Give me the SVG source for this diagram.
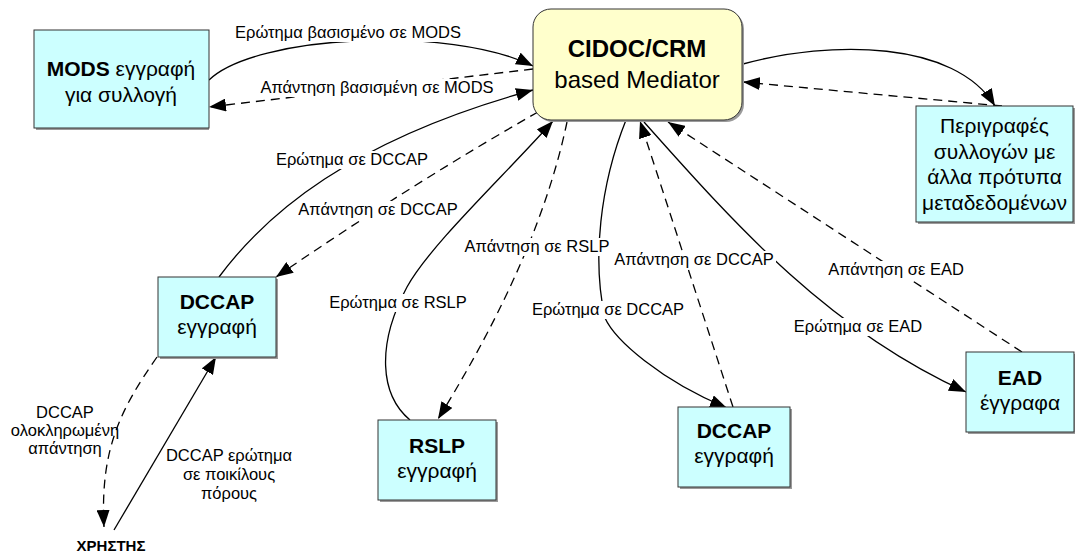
<svg xmlns="http://www.w3.org/2000/svg" width="1075" height="556" viewBox="0 0 1075 556">
  <style>
    text { font-family: "Liberation Sans", Arial, sans-serif; fill: #000; }
    .box { fill: #CCFFFF; stroke: #333; stroke-width: 1; }
    .med { fill: #FFFFCC; stroke: #333; stroke-width: 1; }
    .shadow { fill: #9a9a9a; }
    .nt { font-size: 21px; text-anchor: middle; }
    .mt { font-size: 24px; text-anchor: middle; }
    .b { font-weight: bold; }
    .el { font-size: 16.5px; text-anchor: middle; }
    .bg { fill: #fff; }
    .solid { fill: none; stroke: #000; stroke-width: 1.3; }
    .dash { fill: none; stroke: #000; stroke-width: 1.3; stroke-dasharray: 9 6; }
  </style>
  <defs>
    <marker id="ah" markerUnits="userSpaceOnUse" markerWidth="18" markerHeight="13" refX="17" refY="6.5" orient="auto">
      <path d="M0,0 L17,6.5 L0,13 z" fill="#000" stroke="none"/>
    </marker>
  </defs>
  <rect width="1075" height="556" fill="#fff"/>

  <!-- connectors -->
  <g id="connectors">
    <!-- MODS <-> mediator -->
    <path class="solid" d="M209,80 C255,35 450,25 533,66" marker-end="url(#ah)"/>
    <path class="dash" d="M533,69 L209,107" marker-end="url(#ah)"/>
    <!-- DCCAP (left) <-> mediator -->
    <path class="solid" d="M219,277 C265,215 350,140 533,90" marker-end="url(#ah)"/>
    <path class="dash" d="M538,112 Q410,185 276,277" marker-end="url(#ah)"/>
    <!-- RSLP <-> mediator -->
    <path class="solid" d="M410,420 C380,395 376,345 407,287 C430,245 505,175 553,121" marker-end="url(#ah)"/>
    <path class="dash" d="M567,122 Q539,256 438,419" marker-end="url(#ah)"/>
    <!-- DCCAP (middle) <-> mediator -->
    <path class="solid" d="M626,120 C600,185 592,260 605,318 C615,340 660,380 727,408" marker-end="url(#ah)"/>
    <path class="dash" d="M733,407 L640,121" marker-end="url(#ah)"/>
    <!-- EAD <-> mediator -->
    <path class="solid" d="M644,122 C740,230 830,330 966,392" marker-end="url(#ah)"/>
    <path class="dash" d="M1022,352 L668,122" marker-end="url(#ah)"/>
    <!-- other metadata descriptions <-> mediator -->
    <path class="solid" d="M743,64 C830,40 955,40 995,106" marker-end="url(#ah)"/>
    <path class="dash" d="M1002,106 L743,82" marker-end="url(#ah)"/>
    <!-- user <-> DCCAP (left) -->
    <path class="dash" d="M157,357 C120,410 100,450 104,527" marker-end="url(#ah)"/>
    <path class="solid" d="M114,530 L216,357" marker-end="url(#ah)"/>

    <!-- connector labels -->
    <rect class="bg" x="234" y="24" width="228" height="18"/>
    <text class="el" x="348" y="38">Ερώτημα βασισμένο σε MODS</text>
    <rect class="bg" x="259" y="79" width="236" height="18"/>
    <text class="el" x="377" y="93">Απάντηση βασισμένη σε MODS</text>
    <rect class="bg" x="273" y="151" width="158" height="18"/>
    <text class="el" x="352" y="165">Ερώτημα σε DCCAP</text>
    <rect class="bg" x="296" y="201" width="164" height="18"/>
    <text class="el" x="378" y="215">Απάντηση σε DCCAP</text>
    <rect class="bg" x="465" y="238" width="144" height="18"/>
    <text class="el" x="537" y="252">Απάντηση σε RSLP</text>
    <rect class="bg" x="328" y="294" width="140" height="18"/>
    <text class="el" x="398" y="308">Ερώτημα σε RSLP</text>
    <rect class="bg" x="528" y="301" width="160" height="18"/>
    <text class="el" x="608" y="315">Ερώτημα σε DCCAP</text>
    <rect class="bg" x="612" y="251" width="164" height="18"/>
    <text class="el" x="694" y="265">Απάντηση σε DCCAP</text>
    <rect class="bg" x="827" y="261" width="139" height="18"/>
    <text class="el" x="896" y="275">Απάντηση σε EAD</text>
    <rect class="bg" x="789" y="318" width="138" height="18"/>
    <text class="el" x="858" y="332">Ερώτημα σε EAD</text>
    <text class="el" x="65" y="418">DCCAP<tspan x="65" dy="18">ολοκληρωμένη</tspan><tspan x="65" dy="18">απάντηση</tspan></text>
    <text class="el" x="229" y="461">DCCAP ερώτημα<tspan x="229" dy="19">σε ποικίλους</tspan><tspan x="229" dy="19">πόρους</tspan></text>
  </g>

  <!-- nodes -->
  <g id="mediator">
    <rect class="shadow" x="535" y="11" width="209" height="111" rx="18"/>
    <rect class="med" x="533" y="9" width="209" height="111" rx="18"/>
    <text class="mt b" x="637" y="57">CIDOC/CRM</text>
    <text class="mt" x="637" y="88">based Mediator</text>
  </g>
  <g id="mods">
    <rect class="shadow" x="36" y="32" width="173" height="98"/>
    <rect class="box" x="34" y="30" width="175" height="98"/>
    <text class="nt" x="121" y="76"><tspan class="b">MODS</tspan> εγγραφή</text>
    <text class="nt" x="121" y="102">για συλλογή</text>
  </g>
  <g id="other-descriptions">
    <rect class="shadow" x="918" y="108" width="157" height="116"/>
    <rect class="box" x="916" y="106" width="157" height="116"/>
    <text class="nt" x="994.5" y="133">Περιγραφές</text>
    <text class="nt" x="994.5" y="158.5">συλλογών με</text>
    <text class="nt" x="994.5" y="184">άλλα πρότυπα</text>
    <text class="nt" x="994.5" y="209.5">μεταδεδομένων</text>
  </g>
  <g id="dccap-left">
    <rect class="shadow" x="160" y="279" width="118" height="80"/>
    <rect class="box" x="158" y="277" width="118" height="80"/>
    <text class="nt b" x="217" y="309">DCCAP</text>
    <text class="nt" x="217" y="334">εγγραφή</text>
  </g>
  <g id="rslp">
    <rect class="shadow" x="380" y="422" width="118" height="80"/>
    <rect class="box" x="378" y="420" width="118" height="80"/>
    <text class="nt b" x="437" y="453">RSLP</text>
    <text class="nt" x="437" y="478">εγγραφή</text>
  </g>
  <g id="dccap-middle">
    <rect class="shadow" x="680" y="409" width="112" height="80"/>
    <rect class="box" x="678" y="407" width="112" height="80"/>
    <text class="nt b" x="734" y="438">DCCAP</text>
    <text class="nt" x="734" y="463">εγγραφή</text>
  </g>
  <g id="ead">
    <rect class="shadow" x="968" y="354" width="107" height="80"/>
    <rect class="box" x="966" y="352" width="108" height="80"/>
    <text class="nt b" x="1020" y="385">EAD</text>
    <text class="nt" x="1020" y="410">έγγραφα</text>
  </g>
  <g id="user">
    <text x="111" y="551" font-size="15" font-weight="bold" text-anchor="middle">ΧΡΗΣΤΗΣ</text>
  </g>
</svg>
